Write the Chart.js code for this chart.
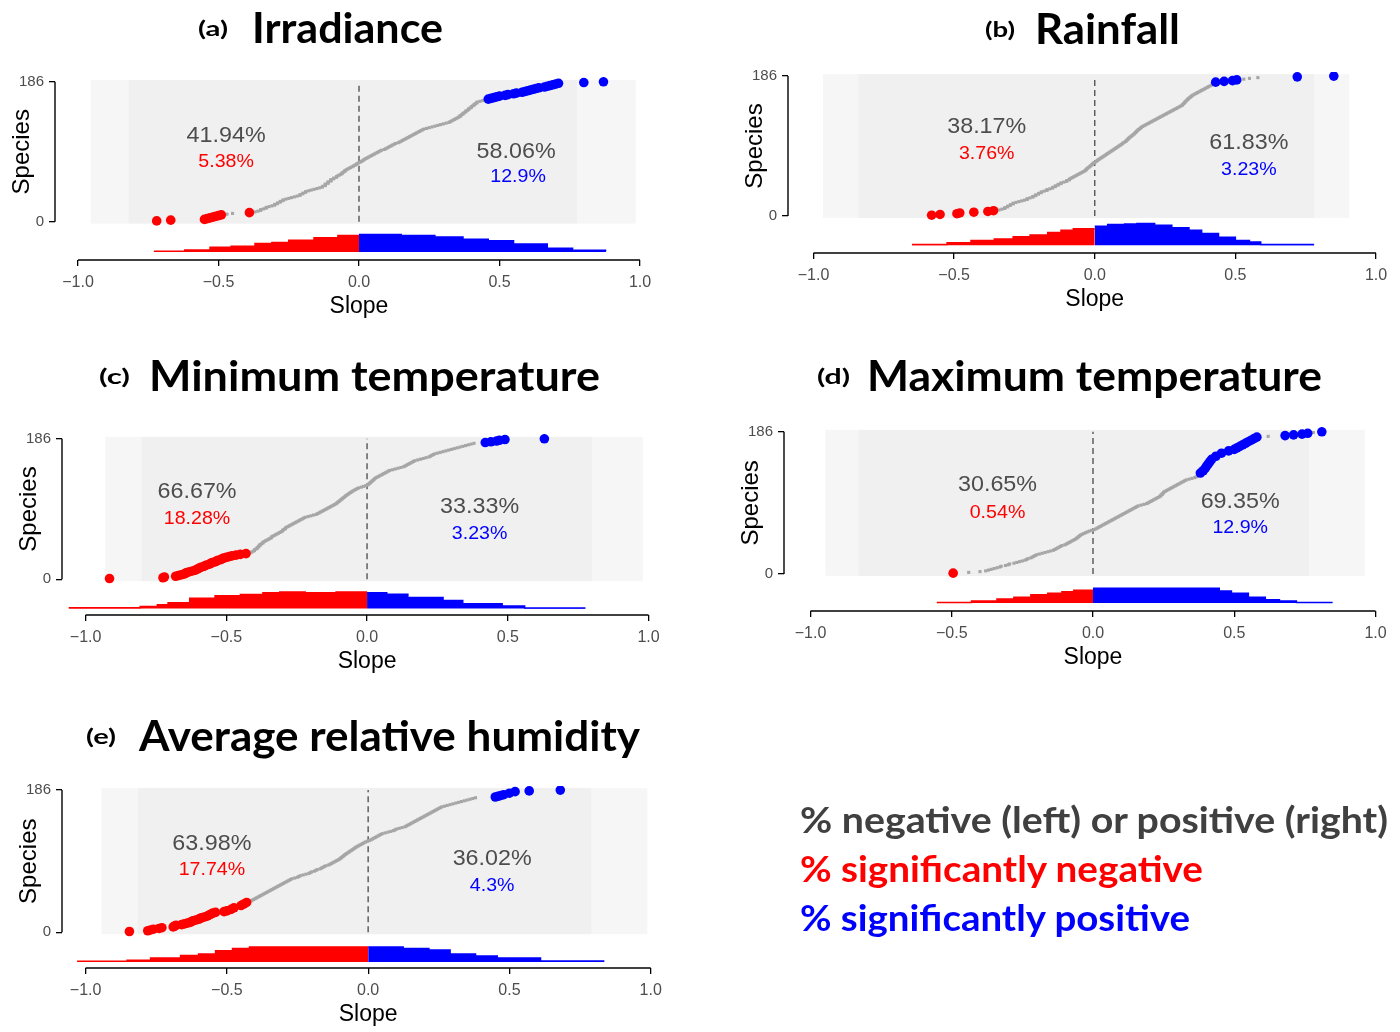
<!DOCTYPE html>
<html><head><meta charset="utf-8">
<script src="https://cdn.jsdelivr.net/npm/chart.js@4.4.1/dist/chart.umd.min.js"></script>
<style>
html,body{margin:0;padding:0;background:#fff}
body{width:1400px;height:1032px;position:relative;overflow:hidden}
canvas{position:absolute}
svg{position:absolute;left:0;top:0}
</style></head>
<body>
<script>
// ---------------- DATA ----------------
const nSpecies = 186;
const xTicks = [-1, -0.5, 0, 0.5, 1];
const yTicks = [0, 186];
const xTitle = 'Slope';
const yTitle = 'Species';
const panelLetters = ['(a)', '(b)', '(c)', '(d)', '(e)'];
const panelNames = ['Irradiance', 'Rainfall', 'Minimum temperature', 'Maximum temperature', 'Average relative humidity'];
const legendLines = ['% negative (left) or positive (right)', '% significantly negative', '% significantly positive'];

// sorted species slopes (rank order)
const slopesIrradiance = [
-0.72,-0.67,-0.55,-0.54,-0.53,-0.52,-0.51,-0.50,-0.49,-0.47,
-0.45,-0.39,-0.37,-0.36,-0.35,-0.35,-0.34,-0.33,-0.33,-0.32,
-0.31,-0.30,-0.30,-0.29,-0.29,-0.28,-0.28,-0.27,-0.27,-0.26,
-0.25,-0.24,-0.23,-0.22,-0.21,-0.21,-0.20,-0.20,-0.19,-0.19,
-0.18,-0.17,-0.16,-0.15,-0.14,-0.13,-0.13,-0.12,-0.12,-0.12,
-0.11,-0.11,-0.11,-0.10,-0.10,-0.10,-0.09,-0.09,-0.08,-0.08,
-0.075,-0.07,-0.065,-0.06,-0.06,-0.055,-0.05,-0.05,-0.045,-0.04,
-0.035,-0.03,-0.025,-0.02,-0.015,-0.01,-0.007,-0.003,
0.003,0.008,0.012,0.017,0.02,0.025,0.03,0.035,0.04,0.045,
0.05,0.055,0.06,0.065,0.07,0.075,0.08,0.09,0.095,0.10,
0.105,0.11,0.115,0.12,0.125,0.13,0.14,0.145,0.15,0.155,
0.16,0.165,0.17,0.175,0.18,0.185,0.19,0.195,0.20,0.205,
0.21,0.215,0.22,0.225,0.23,0.24,0.25,0.26,0.27,0.28,
0.29,0.30,0.31,0.32,0.325,0.33,0.335,0.34,0.345,0.35,
0.355,0.36,0.36,0.365,0.37,0.37,0.375,0.38,0.38,0.385,
0.39,0.39,0.395,0.40,0.40,0.405,0.41,0.41,0.415,0.42,
0.42,0.43,0.44,0.45,
0.46,0.47,0.48,0.49,0.50,0.52,0.53,0.55,0.56,0.58,
0.59,0.60,0.61,0.62,0.63,0.64,0.66,0.67,0.68,0.69,
0.70,0.71,0.80,0.87];
const slopesRainfall = [
-0.58,-0.55,-0.49,-0.48,-0.43,-0.38,-0.36,-0.34,-0.33,-0.32,
-0.32,-0.31,-0.31,-0.30,-0.30,-0.29,-0.29,-0.28,-0.27,-0.26,
-0.25,-0.24,-0.24,-0.23,-0.22,-0.22,-0.21,-0.21,-0.20,-0.20,
-0.19,-0.19,-0.18,-0.17,-0.17,-0.16,-0.15,-0.15,-0.14,-0.14,
-0.13,-0.13,-0.12,-0.12,-0.11,-0.10,-0.10,-0.09,-0.09,-0.085,
-0.08,-0.075,-0.07,-0.065,-0.06,-0.055,-0.05,-0.045,-0.04,-0.035,
-0.032,-0.03,-0.027,-0.024,-0.02,-0.017,-0.014,-0.011,-0.008,-0.005,
-0.002,
0.003,0.007,0.01,0.014,0.018,0.022,0.026,0.03,0.034,0.038,
0.042,0.046,0.05,0.054,0.058,0.062,0.066,0.07,0.074,0.078,
0.082,0.086,0.09,0.094,0.098,0.10,0.105,0.11,0.112,0.115,
0.118,0.12,0.123,0.126,0.13,0.133,0.136,0.14,0.142,0.145,
0.148,0.15,0.153,0.156,0.16,0.163,0.166,0.17,0.175,0.18,
0.185,0.19,0.195,0.20,0.205,0.21,0.215,0.22,0.225,0.23,
0.235,0.24,0.245,0.25,0.255,0.26,0.265,0.27,0.275,0.28,
0.285,0.29,0.295,0.30,0.305,0.31,0.312,0.315,0.318,0.32,
0.322,0.325,0.328,0.33,0.333,0.336,0.34,0.343,0.346,0.35,
0.355,0.36,0.365,0.37,0.375,0.38,0.385,0.39,0.395,0.40,
0.405,0.41,0.415,0.42,0.42,0.425,
0.43,0.46,0.49,0.505,0.53,0.55,0.58,0.72,0.85];
const slopesMinTemp = [
-0.915,-0.725,-0.72,-0.68,-0.67,-0.66,-0.65,-0.645,-0.64,-0.63,
-0.62,-0.61,-0.605,-0.60,-0.595,-0.59,-0.58,-0.575,-0.57,-0.56,
-0.555,-0.55,-0.54,-0.535,-0.53,-0.52,-0.515,-0.51,-0.50,-0.49,
-0.48,-0.465,-0.45,-0.43,
-0.415,-0.41,-0.405,-0.40,-0.40,-0.395,-0.39,-0.39,-0.385,-0.385,
-0.38,-0.38,-0.375,-0.37,-0.37,-0.365,-0.36,-0.355,-0.35,-0.345,
-0.34,-0.34,-0.335,-0.33,-0.325,-0.32,-0.315,-0.31,-0.305,-0.30,
-0.30,-0.295,-0.29,-0.29,-0.285,-0.28,-0.275,-0.27,-0.265,-0.26,
-0.255,-0.25,-0.245,-0.24,-0.235,-0.23,-0.225,-0.22,-0.21,-0.20,
-0.19,-0.18,-0.175,-0.17,-0.165,-0.16,-0.155,-0.15,-0.145,-0.14,
-0.135,-0.13,-0.125,-0.12,-0.115,-0.11,-0.107,-0.104,-0.10,-0.097,
-0.094,-0.09,-0.087,-0.084,-0.08,-0.077,-0.074,-0.07,-0.066,-0.062,
-0.058,-0.054,-0.05,-0.045,-0.04,-0.035,-0.03,-0.02,-0.012,-0.004,
0.003,0.006,0.009,0.012,0.015,0.018,0.021,0.024,0.027,0.03,
0.035,0.04,0.045,0.05,0.055,0.06,0.065,0.07,0.075,0.08,
0.09,0.10,0.11,0.12,0.13,0.135,0.14,0.145,0.15,0.155,
0.16,0.165,0.17,0.18,0.19,0.20,0.21,0.22,0.225,0.23,
0.235,0.24,0.25,0.26,0.27,0.28,0.29,0.30,0.31,0.32,
0.33,0.34,0.35,0.36,0.37,0.38,
0.42,0.44,0.46,0.47,0.49,0.63];
const slopesMaxTemp = [
-0.495,-0.44,-0.40,-0.38,-0.37,-0.36,-0.35,-0.34,-0.33,-0.325,
-0.31,-0.30,-0.295,-0.28,-0.27,-0.26,-0.25,-0.24,-0.235,-0.23,
-0.22,-0.215,-0.21,-0.205,-0.20,-0.19,-0.18,-0.17,-0.16,-0.15,
-0.14,-0.135,-0.13,-0.125,-0.12,-0.115,-0.11,-0.10,-0.095,-0.09,
-0.085,-0.08,-0.075,-0.07,-0.065,-0.06,-0.057,-0.053,-0.05,-0.047,
-0.043,-0.038,-0.032,-0.026,-0.02,-0.013,-0.005,
0.004,0.01,0.015,0.02,0.025,0.03,0.035,0.04,0.045,0.05,
0.055,0.06,0.065,0.07,0.075,0.08,0.085,0.09,0.095,0.10,
0.105,0.11,0.115,0.12,0.125,0.13,0.135,0.14,0.145,0.15,
0.155,0.16,0.17,0.18,0.19,0.195,0.20,0.205,0.21,0.215,
0.22,0.225,0.23,0.235,0.24,0.24,0.245,0.245,0.25,0.25,
0.255,0.26,0.265,0.27,0.275,0.28,0.285,0.29,0.295,0.30,
0.305,0.31,0.315,0.32,0.325,0.33,0.34,0.35,0.36,0.365,
0.37,0.372,0.375,0.378,0.38,0.383,0.386,0.39,0.392,0.395,
0.397,0.399,0.40,0.402,0.404,0.406,0.408,0.41,0.412,0.414,
0.416,0.418,0.42,0.423,0.426,0.43,0.435,0.44,0.445,0.45,
0.455,0.46,0.47,0.48,0.49,0.50,0.505,0.51,0.515,0.52,
0.525,0.53,0.535,0.54,0.545,0.55,0.555,0.56,0.565,0.57,
0.575,0.58,0.62,0.68,0.71,0.74,0.76,0.78,0.81];
const slopesHumidity = [
-0.845,-0.78,-0.77,-0.76,-0.74,-0.73,-0.69,-0.685,-0.68,-0.66,
-0.65,-0.64,-0.63,-0.625,-0.62,-0.61,-0.60,-0.595,-0.59,-0.58,
-0.57,-0.565,-0.56,-0.555,-0.55,-0.54,-0.51,-0.50,-0.49,-0.485,
-0.48,-0.475,-0.47,-0.46,-0.45,-0.445,-0.44,-0.435,-0.43,
-0.42,-0.415,-0.41,-0.405,-0.40,-0.395,-0.39,-0.385,-0.38,-0.375,
-0.37,-0.365,-0.36,-0.355,-0.35,-0.345,-0.34,-0.335,-0.33,-0.325,
-0.32,-0.315,-0.31,-0.305,-0.30,-0.295,-0.29,-0.285,-0.28,-0.275,
-0.27,-0.26,-0.25,-0.245,-0.24,-0.23,-0.22,-0.21,-0.205,-0.20,
-0.19,-0.185,-0.18,-0.17,-0.165,-0.16,-0.155,-0.15,-0.14,-0.135,
-0.13,-0.125,-0.12,-0.115,-0.11,-0.105,-0.10,-0.097,-0.094,-0.09,
-0.087,-0.084,-0.08,-0.076,-0.072,-0.068,-0.064,-0.06,-0.056,-0.052,
-0.048,-0.044,-0.04,-0.035,-0.03,-0.025,-0.02,-0.015,-0.01,-0.004,
0.004,0.01,0.015,0.02,0.025,0.03,0.035,0.04,0.045,0.05,
0.06,0.07,0.08,0.09,0.095,0.10,0.11,0.12,0.13,0.135,
0.14,0.145,0.15,0.155,0.16,0.165,0.17,0.175,0.18,0.185,
0.19,0.195,0.20,0.205,0.21,0.215,0.22,0.225,0.23,0.235,
0.24,0.245,0.25,0.255,0.26,0.27,0.28,0.29,0.30,0.31,
0.32,0.33,0.34,0.35,0.36,0.37,0.38,
0.45,0.46,0.47,0.48,0.49,0.50,0.51,0.52,0.57,0.68];

// ranks (0-based) of significantly negative / positive species
const sigNegIrradiance = [0,1,2,3,4,5,6,7,8,11];
const sigPosIrradiance = [162,163,164,165,166,167,168,169,170,171,172,173,174,175,176,177,178,179,180,181,182,183,184,185];
const sigNegRainfall = [0,1,2,3,4,5,6];
const sigPosRainfall = [177,178,179,180,184,185];
const sigNegMinTemp = [0,1,2,3,4,5,6,7,8,9,10,11,12,13,14,15,16,17,18,19,20,21,22,23,24,25,26,27,28,29,30,31,32,33];
const sigPosMinTemp = [180,181,182,183,184,185];
const sigNegMaxTemp = [0];
const sigPosMaxTemp = [131,134,137,140,143,146,149,153,157,160,162,164,166,168,170,172,174,176,178,180,181,182,183,185];
const sigNegHumidity = [0,1,2,3,4,5,6,7,8,9,10,11,12,13,14,15,16,17,18,19,20,21,22,23,24,25,26,27,29,31,34,36,38];
const sigPosHumidity = [176,177,178,179,181,183,184,185];

// percentages: [negative, significantly negative, positive, significantly positive]
const pctIrradiance = ['41.94%', '5.38%', '58.06%', '12.9%'];
const pctRainfall = ['38.17%', '3.76%', '61.83%', '3.23%'];
const pctMinTemp = ['66.67%', '18.28%', '33.33%', '3.23%'];
const pctMaxTemp = ['30.65%', '0.54%', '69.35%', '12.9%'];
const pctHumidity = ['63.98%', '17.74%', '36.02%', '4.3%'];

// slope density (step bins): edges and height per bin
const densEdgesIrradiance = [-0.73,-0.62,-0.53,-0.455,-0.37,-0.31,-0.25,-0.16,-0.075,0,0.15,0.27,0.37,0.46,0.55,0.67,0.76,0.88];
const densIrradiance = [0.06,0.14,0.31,0.38,0.56,0.63,0.77,0.94,1.08,1.14,1.08,0.98,0.83,0.73,0.52,0.25,0.11];
const densEdgesRainfall = [-0.65,-0.525,-0.44,-0.357,-0.29,-0.23,-0.167,-0.12,-0.076,0,0.046,0.106,0.15,0.213,0.274,0.335,0.38,0.44,0.5,0.55,0.59,0.78];
const densRainfall = [0.06,0.17,0.31,0.42,0.56,0.67,0.83,0.98,1.08,1.25,1.36,1.39,1.42,1.31,1.14,0.98,0.77,0.52,0.31,0.21,0.06];
const densEdgesMinTemp = [-1.06,-0.806,-0.745,-0.707,-0.63,-0.54,-0.45,-0.37,-0.31,-0.22,-0.11,0,0.07,0.145,0.27,0.34,0.48,0.56,0.776];
const densMinTemp = [0.06,0.14,0.25,0.38,0.67,0.83,0.92,1.04,1.08,1.04,1.08,1.04,0.94,0.73,0.52,0.31,0.17,0.04];
const densEdgesMaxTemp = [-0.553,-0.43,-0.34,-0.28,-0.22,-0.16,-0.11,-0.068,0,0.447,0.49,0.55,0.61,0.66,0.72,0.848];
const densMaxTemp = [0.04,0.13,0.27,0.38,0.54,0.64,0.73,0.83,0.96,0.79,0.63,0.38,0.21,0.13,0.04];
const densEdgesHumidity = [-1.03,-0.853,-0.77,-0.664,-0.60,-0.54,-0.48,-0.42,0,0.124,0.215,0.29,0.38,0.457,0.61,0.836];
const densHumidity = [0.04,0.11,0.25,0.42,0.52,0.73,0.88,0.98,0.98,0.88,0.77,0.52,0.38,0.25,0.06];

// extent of the per-species confidence-interval lines (outer ragged edge, solid core)
const ciOuterIrradiance = [-0.955, 0.985], ciInnerIrradiance = [-0.82, 0.776];
const ciOuterRainfall = [-0.966, 0.905], ciInnerRainfall = [-0.84, 0.78];
const ciOuterMinTemp = [-0.93, 0.98], ciInnerMinTemp = [-0.80, 0.80];
const ciOuterMaxTemp = [-0.947, 0.962], ciInnerMaxTemp = [-0.83, 0.765];
const ciOuterHumidity = [-0.944, 0.988], ciInnerHumidity = [-0.815, 0.79];

// ---------------- LAYOUT (page pixels) ----------------
const layouts = [
 {cl:0,   X0:78,    X1:640,    YA:55,    Y0:220,   Y186:74,    XB:260,   base:-40.4, lab:[-0.473,114.6,-0.473,79,0.559,93,0.566,60]},
 {cl:730, X0:813.5, X1:1376,   YA:787.8, Y0:214.3, Y186:68.3,  XB:253.3, base:-39.1, lab:[-0.384,118,-0.384,81.9,0.548,96.8,0.548,60.6]},
 {cl:0,   X0:85.6,  X1:648.5,  YA:62,    Y0:577.7, Y186:431,   XB:615,   base:-38.8, lab:[-0.604,115.4,-0.604,80.4,0.400,95.6,0.400,60.5]},
 {cl:730, X0:810.5, X1:1375.5, YA:783.5, Y0:572.3, Y186:424,   XB:611,   base:-38.1, lab:[-0.338,115.8,-0.338,80.3,0.521,94.1,0.521,60.6]},
 {cl:0,   X0:85.6,  X1:650.7,  YA:62,    Y0:930.7, Y186:782.3, XB:968.3, base:-38.8, lab:[-0.553,115,-0.553,81.5,0.439,95.7,0.439,60.7]}
];
const titleLayout = [
 {lx:198, ll:30, tx:252, tl:191, by:43},
 {lx:985, ll:30, tx:1035, tl:145, by:44},
 {lx:99,  ll:31, tx:149, tl:451, by:391, clip:396},
 {lx:817, ll:33, tx:867, tl:455, by:391},
 {lx:86,  ll:30, tx:139, tl:501, by:751}
];

const panels = [
 {slopes:slopesIrradiance, sigNeg:sigNegIrradiance, sigPos:sigPosIrradiance, pct:pctIrradiance, dE:densEdgesIrradiance, d:densIrradiance, ciO:ciOuterIrradiance, ciI:ciInnerIrradiance},
 {slopes:slopesRainfall, sigNeg:sigNegRainfall, sigPos:sigPosRainfall, pct:pctRainfall, dE:densEdgesRainfall, d:densRainfall, ciO:ciOuterRainfall, ciI:ciInnerRainfall},
 {slopes:slopesMinTemp, sigNeg:sigNegMinTemp, sigPos:sigPosMinTemp, pct:pctMinTemp, dE:densEdgesMinTemp, d:densMinTemp, ciO:ciOuterMinTemp, ciI:ciInnerMinTemp},
 {slopes:slopesMaxTemp, sigNeg:sigNegMaxTemp, sigPos:sigPosMaxTemp, pct:pctMaxTemp, dE:densEdgesMaxTemp, d:densMaxTemp, ciO:ciOuterMaxTemp, ciI:ciInnerMaxTemp},
 {slopes:slopesHumidity, sigNeg:sigNegHumidity, sigPos:sigPosHumidity, pct:pctHumidity, dE:densEdgesHumidity, d:densHumidity, ciO:ciOuterHumidity, ciI:ciInnerHumidity}
];

Chart.defaults.font.family = '"Liberation Sans", Arial, sans-serif';
const RED = '#ff0000', BLUE = '#0000ff', GREYPT = '#a6a6a6', TXT = '#4d4d4d';
const fmt = v => (Math.round(v * 10) / 10).toFixed(1).replace('-', '\u2212');

function densPts(edges, h, base, k, neg) {
  const pts = [];
  for (let i = 0; i < h.length; i++) {
    const x0 = edges[i];
    if (neg ? x0 < 0 : x0 >= 0) pts.push({x: x0, y: base + h[i] * k});
  }
  if (neg) pts.push({x: 0, y: pts[pts.length - 1].y});
  else pts.push({x: edges[edges.length - 1], y: pts[pts.length - 1].y});
  return pts;
}

panels.forEach((p, idx) => {
  const g = layouts[idx];
  const u = (g.X1 - g.X0) / 2;
  const v = (g.Y0 - g.Y186) / nSpecies;
  const padTop = 6, padRight = 25, xAxisH = 70;
  const areaTop = g.Y0 - (nSpecies + 6) * v;
  const ctop = Math.round(areaTop) - padTop;
  const W = Math.round(g.YA - g.cl);
  const cw = Math.round(g.X1 + padRight - g.cl);
  const ch = Math.round(g.XB - ctop) + xAxisH;
  const T = ctop + padTop, B = ctop + ch - xAxisH;
  const Lp = g.cl + W, R = g.cl + cw - padRight;
  const ymax = (g.Y0 - T) / v, ymin = (g.Y0 - B) / v;
  const xmin = (Lp - g.X0) / u - 1, xmax = (R - g.X0) / u - 1;
  const k = 16 / v;

  const cv = document.createElement('canvas');
  cv.width = cw; cv.height = ch;
  cv.style.left = g.cl + 'px'; cv.style.top = ctop + 'px';
  cv.style.width = cw + 'px'; cv.style.height = ch + 'px';
  document.body.appendChild(cv);

  const negSet = new Set(p.sigNeg), posSet = new Set(p.sigPos);
  const grey = [], red = [], blue = [];
  p.slopes.forEach((s, i) => {
    const pt = {x: s, y: i + 1};
    if (negSet.has(i)) red.push(pt); else if (posSet.has(i)) blue.push(pt); else grey.push(pt);
  });

  const decor = {
    id: 'decor' + idx,
    beforeDatasetsDraw(chart) {
      const {ctx, scales: {x, y}} = chart;
      const yt = y.getPixelForValue(nSpecies + 2.5), yb = y.getPixelForValue(-2.5);
      ctx.save();
      ctx.fillStyle = '#f6f6f6';
      ctx.fillRect(x.getPixelForValue(p.ciO[0]), yt, x.getPixelForValue(p.ciO[1]) - x.getPixelForValue(p.ciO[0]), yb - yt);
      ctx.fillStyle = '#f0f0f0';
      ctx.fillRect(x.getPixelForValue(p.ciI[0]), yt, x.getPixelForValue(p.ciI[1]) - x.getPixelForValue(p.ciI[0]), yb - yt);
      ctx.restore();
    },
    afterDraw(chart) {
      const {ctx, chartArea: a, scales: {x, y}} = chart;
      ctx.save();
      ctx.strokeStyle = '#000'; ctx.lineWidth = 1.4;
      ctx.beginPath();
      ctx.moveTo(x.getPixelForValue(xTicks[0]), a.bottom);
      ctx.lineTo(x.getPixelForValue(xTicks[xTicks.length - 1]), a.bottom);
      ctx.stroke();
      ctx.beginPath();
      ctx.moveTo(a.left, y.getPixelForValue(yTicks[0]));
      ctx.lineTo(a.left, y.getPixelForValue(yTicks[1]));
      ctx.stroke();
      ctx.fillStyle = '#000';
      ctx.textAlign = 'center'; ctx.textBaseline = 'middle';
      ctx.font = '23px "Liberation Sans"';
      ctx.fillText(xTitle, x.getPixelForValue(0), a.bottom + 47);
      ctx.save();
      ctx.font = '24px "Liberation Sans"';
      ctx.translate(a.left - 33, (y.getPixelForValue(yTicks[0]) + y.getPixelForValue(yTicks[1])) / 2);
      ctx.rotate(-Math.PI / 2);
      ctx.fillText(yTitle, 0, 0);
      ctx.restore();
      const L = g.lab;
      const items = [[p.pct[0], L[0], L[1], TXT, 22], [p.pct[1], L[2], L[3], RED, 18.5],
                     [p.pct[2], L[4], L[5], TXT, 22], [p.pct[3], L[6], L[7], BLUE, 18.5]];
      items.forEach(([t, dx, dy, col, fs]) => {
        ctx.save();
        ctx.translate(x.getPixelForValue(dx), y.getPixelForValue(dy));
        ctx.scale(1.06, 1);
        ctx.fillStyle = col;
        ctx.font = fs + 'px "Liberation Sans"';
        ctx.fillText(t, 0, 0);
        ctx.restore();
      });
      ctx.restore();
    }
  };

  new Chart(cv, {
    type: 'scatter',
    data: {
      datasets: [
        {data: red, backgroundColor: RED, pointRadius: 4.8, borderWidth: 0, order: 0},
        {data: blue, backgroundColor: BLUE, pointRadius: 4.8, borderWidth: 0, order: 0},
        {data: grey, backgroundColor: GREYPT, pointStyle: 'rect', pointRadius: 2.2, borderWidth: 0, order: 1},
        {type: 'line', data: [{x: 0, y: yTicks[0]}, {x: 0, y: nSpecies}], borderColor: '#555', borderWidth: 1.4,
         borderDash: [6, 4], pointRadius: 0, fill: false, order: 2},
        {type: 'line', data: densPts(p.dE, p.d, g.base, k, true), borderColor: RED, backgroundColor: RED,
         borderWidth: 1.5, stepped: true, pointRadius: 0, fill: {value: g.base}, order: 3},
        {type: 'line', data: densPts(p.dE, p.d, g.base, k, false), borderColor: BLUE, backgroundColor: BLUE,
         borderWidth: 1.5, stepped: true, pointRadius: 0, fill: {value: g.base}, order: 3}
      ]
    },
    options: {
      responsive: false, animation: false, devicePixelRatio: 1,
      layout: {padding: {left: 0, right: padRight, top: padTop, bottom: 0}},
      plugins: {legend: {display: false}, tooltip: {enabled: false}, title: {display: false}},
      scales: {
        x: {
          type: 'linear', min: xmin, max: xmax,
          afterBuildTicks: s => { s.ticks = xTicks.map(t => ({value: t})); },
          afterFit: s => { s.height = xAxisH; },
          ticks: {callback: val => fmt(val), color: TXT, font: {size: 16}, padding: 7, maxRotation: 0, autoSkip: false},
          grid: {drawOnChartArea: false, drawTicks: true, tickLength: 6, color: '#000', lineWidth: 1.3},
          border: {display: false}
        },
        y: {
          type: 'linear', min: ymin, max: ymax,
          afterBuildTicks: s => { s.ticks = yTicks.map(t => ({value: t})); },
          afterFit: s => { s.width = W; },
          ticks: {callback: val => String(val), color: TXT, font: {size: 15}, padding: 5, autoSkip: false},
          grid: {drawOnChartArea: false, drawTicks: true, tickLength: 6, color: '#000', lineWidth: 1.3},
          border: {display: false}
        }
      }
    },
    plugins: [decor]
  });
});

// ---------------- TITLES AND LEGEND (SVG text) ----------------
const NS = 'http://www.w3.org/2000/svg';
const svg = document.createElementNS(NS, 'svg');
svg.setAttribute('width', 1400); svg.setAttribute('height', 1032);
svg.setAttribute('font-family', 'Lato, "Open Sans", sans-serif');
svg.setAttribute('font-weight', '700');
document.body.appendChild(svg);
const defs = document.createElementNS(NS, 'defs'); svg.appendChild(defs);
function addText(str, x, y, size, len, color, clipId) {
  const t = document.createElementNS(NS, 'text');
  t.setAttribute('x', x); t.setAttribute('y', y);
  t.setAttribute('font-size', size); t.setAttribute('fill', color);
  t.setAttribute('textLength', len); t.setAttribute('lengthAdjust', 'spacingAndGlyphs');
  if (clipId) t.setAttribute('clip-path', 'url(#' + clipId + ')');
  t.textContent = str;
  svg.appendChild(t);
}
titleLayout.forEach((tl, i) => {
  let clipId = null;
  if (tl.clip) {
    clipId = 'clip' + i;
    const cp = document.createElementNS(NS, 'clipPath'); cp.setAttribute('id', clipId);
    const r = document.createElementNS(NS, 'rect');
    r.setAttribute('x', 0); r.setAttribute('y', tl.by - 60); r.setAttribute('width', 1400); r.setAttribute('height', tl.clip - tl.by + 60);
    cp.appendChild(r); defs.appendChild(cp);
  }
  addText(panelLetters[i], tl.lx, tl.by - 7, 21, tl.ll, '#000');
  addText(panelNames[i], tl.tx, tl.by, 42, tl.tl, '#000', clipId);
});
const legendColors = ['#404040', '#ff0000', '#0000ff'];
const legendLayout = [{y:833, len:588}, {y:882, len:403}, {y:931, len:390}];
legendLines.forEach((s, i) => addText(s, 800, legendLayout[i].y, 37, legendLayout[i].len, legendColors[i]));
</script>
</body></html>
